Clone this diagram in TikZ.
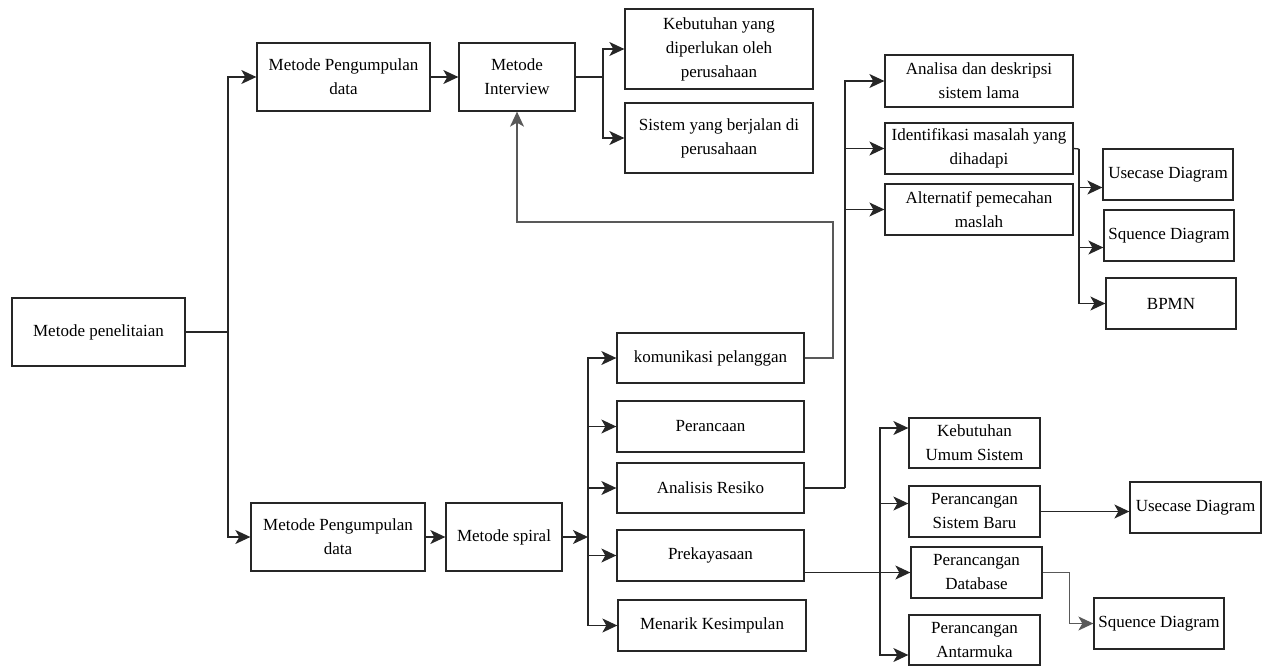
\documentclass[tikz,border=0pt]{standalone}
\usepackage{fontspec}
\setmainfont{Liberation Serif}
\usetikzlibrary{arrows.meta}

\tikzset{kotak/.style={draw, line width=1.3pt, align=center, inner sep=0pt, font=\fontsize{17}{24}\selectfont}}
\tikzset{tebal/.style={line width=2.4pt}}
\tikzset{panah/.style={-{Stealth[length=15pt,width=14pt,inset=4pt]}}}

\begin{document}
\begin{tikzpicture}[x=1pt,y=-1pt,line width=1.3pt,draw=black!85]
\useasboundingbox (0,0) rectangle (1265,666);
% kiri
\node[kotak, minimum width=173, minimum height=68] (pen) at (98.5,332) {Metode penelitaian};
\node[kotak, minimum width=173, minimum height=68] (mpd1) at (343.5,77) {Metode Pengumpulan\\data};
\node[kotak, minimum width=174, minimum height=68] (mpd2) at (338,537) {Metode Pengumpulan\\data};
\node[kotak, minimum width=116, minimum height=68] (intv) at (517,77) {Metode\\Interview};
\node[kotak, minimum width=116, minimum height=68] (spiral) at (504,537) {Metode spiral};
% interview
\node[kotak, minimum width=188, minimum height=80] (keb) at (719,49) {Kebutuhan yang\\diperlukan oleh\\perusahaan};
\node[kotak, minimum width=188, minimum height=70] (sis) at (719,138) {Sistem yang berjalan di\\perusahaan};
% spiral
\node[kotak, minimum width=187, minimum height=50] (kom) at (710.5,358) {komunikasi pelanggan};
\node[kotak, minimum width=187, minimum height=51] (pcn) at (710.5,426.5) {Perancaan};
\node[kotak, minimum width=187, minimum height=50] (ars) at (710.5,488) {Analisis Resiko};
\node[kotak, minimum width=187, minimum height=51] (prk) at (710.5,555.5) {Prekayasaan};
\node[kotak, minimum width=188, minimum height=51] (mks) at (712,625.5) {Menarik Kesimpulan};
% analisis resiko
\node[kotak, minimum width=188, minimum height=52] (ana) at (979,81) {Analisa dan deskripsi\\sistem lama};
\node[kotak, minimum width=188, minimum height=51] (idf) at (979,148.5) {Identifikasi masalah yang\\dihadapi};
\node[kotak, minimum width=188, minimum height=51] (alt) at (979,209.5) {Alternatif pemecahan\\maslah};
\node[kotak, minimum width=130, minimum height=51] (uc1) at (1168,174.5) {Usecase Diagram};
\node[kotak, minimum width=130, minimum height=51] (sq1) at (1169,235.5) {Squence Diagram};
\node[kotak, minimum width=130, minimum height=51] (bpmn) at (1171,303.5) {BPMN};
% prekayasaan
\node[kotak, minimum width=131, minimum height=50] (kus) at (974.5,443) {Kebutuhan\\Umum Sistem};
\node[kotak, minimum width=131, minimum height=51] (psb) at (974.5,511.5) {Perancangan\\Sistem Baru};
\node[kotak, minimum width=131, minimum height=51] (pdb) at (976.5,572.5) {Perancangan\\Database};
\node[kotak, minimum width=131, minimum height=50] (pam) at (974.5,640) {Perancangan\\Antarmuka};
\node[kotak, minimum width=131, minimum height=51] (uc2) at (1195.5,507.5) {Usecase Diagram};
\node[kotak, minimum width=130, minimum height=51] (sq2) at (1159,623.5) {Squence Diagram};

% titik cabang
\coordinate (cab1) at (228,332);
\coordinate (cab2) at (603,77);
\coordinate (cab3) at (588,537);
\coordinate (balik) at (833,222);
\coordinate (cab5) at (845,488);
\coordinate (cab6) at (1079,149);
\coordinate (cab7) at (880,572.5);

% panah
\draw[tebal] (pen.east) -- (cab1);
\draw[panah] (cab1) |- (mpd1.west);
\draw[panah] (cab1) |- (mpd2.west);
\draw[panah] (mpd1) -- (intv);
\draw (intv.east) -- (cab2);
\foreach \t in {keb,sis} \draw[panah] (cab2) |- (\t.west);
\draw[panah] (mpd2) -- (spiral);
\draw[panah] (spiral.east) -- (cab3);
\foreach \t in {kom,pcn,ars,prk,mks} \draw[panah] (cab3) |- (\t.west);
\draw[panah,black!65] (kom.east) -| (balik) -| (intv.south);	% balik ke interview
\draw[tebal] (ars.east) -- (cab5);
\foreach \t in {ana,idf,alt} \draw[panah] (cab5) |- (\t.west);
\draw (idf.east) -- (cab6);
\foreach \t/\s in {uc1/-13,sq1/-12,bpmn/0} \draw[panah] (cab6) |- ([yshift=\s pt]\t.west);
\draw[panah] (prk.east |- pdb.west) -- (pdb.west);
\foreach \t/\s in {kus/15,psb/8,pam/-15} \draw[panah] (cab7) |- ([yshift=\s pt]\t.west);
\draw[panah] (psb.east) -- (psb.east -| uc2.west);
\draw[panah,black!65] (pdb.east) -- ++(27,0) |- (sq2.west);
\end{tikzpicture}
\end{document}
